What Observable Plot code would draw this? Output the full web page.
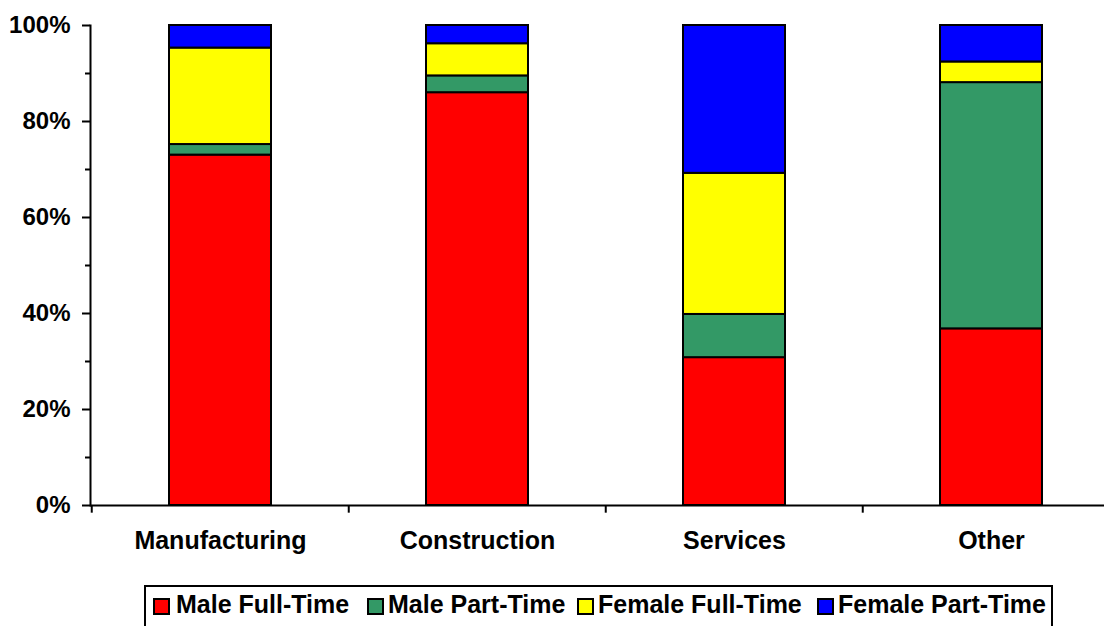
<!DOCTYPE html>
<html>
<head>
<meta charset="utf-8">
<script src="https://cdn.jsdelivr.net/npm/d3@7"></script>
<script src="https://cdn.jsdelivr.net/npm/@observablehq/plot@0.6"></script>
<style>
  html, body { margin: 0; padding: 0; background: #fff; }
  body { width: 1104px; height: 626px; position: relative; overflow: hidden; font-family: "Liberation Sans", Arial, sans-serif; }
  #chart { position: absolute; left: 0; top: 0; }
  #legend { position: absolute; left: 144px; top: 585px; width: 909px; height: 48px; border: 2px solid #000; box-sizing: border-box;
            font-weight: bold; font-size: 25px; white-space: nowrap; }
  .sw { position: absolute; top: 11px; width: 13px; height: 13px; border: 2px solid #000; }
  .lab { position: absolute; top: 3px; line-height: 29px; }
</style>
</head>
<body>
<div id="chart"></div>
<div id="legend"></div>
<script>
const categories = ["Manufacturing", "Construction", "Services", "Other"];
const series = ["Male Full-Time", "Male Part-Time", "Female Full-Time", "Female Part-Time"];
const colors = ["#FF0000", "#339966", "#FFFF00", "#0000FF"];
const maleFullTime   = [73.0, 86.0, 30.8, 36.8];
const malePartTime   = [2.2, 3.5, 9.0, 51.3];
const femaleFullTime = [20.1, 6.7, 29.4, 4.3];
const femalePartTime = [4.7, 3.8, 30.8, 7.6];
const majorTicks = [0, 20, 40, 60, 80, 100];
const minorTicks = [10, 30, 50, 70, 90];

const seriesValues = [maleFullTime, malePartTime, femaleFullTime, femalePartTime];
const data = [];
series.forEach((s, si) => categories.forEach((c, ci) => data.push({category: c, series: s, value: seriesValues[si][ci]})));

const font = "'Liberation Sans', Arial, sans-serif";
const step = (1120 - 90) / categories.length;

const chart = Plot.plot({
  width: 1104,
  height: 580,
  marginLeft: 90,
  marginRight: 0,
  marginTop: 25,
  marginBottom: 75,
  style: {fontFamily: font, background: "white", overflow: "visible"},
  x: {domain: categories, range: [90, 1120], paddingInner: 0.604, paddingOuter: 0.302, axis: null, label: null},
  y: {domain: [0, 100], axis: null, label: null},
  color: {domain: series, range: colors},
  marks: [
    Plot.barY(data, {x: "category", y: "value", fill: "series", stroke: "black", strokeWidth: 2}),
    Plot.frame({anchor: "left", stroke: "black", strokeWidth: 2}),
    Plot.ruleY([0], {stroke: "black", strokeWidth: 2}),
    Plot.ruleX(categories, {x: d => d, dx: -step / 2, y1: 0, y2: -1.6, stroke: "black", strokeWidth: 2}),
    Plot.axisY({ticks: majorTicks, tickSize: 8, tickPadding: 12, strokeWidth: 2, stroke: "black", label: null,
      tickFormat: d => d + "%", fontSize: 24, fontWeight: "bold", fill: "black"}),
    Plot.axisY({ticks: minorTicks, tickSize: 5, strokeWidth: 2, stroke: "black", text: null, label: null}),
    Plot.axisX({tickSize: 0, tickPadding: 26, fontSize: 25, fontWeight: "bold", fill: "black", label: null})
  ]
});
document.getElementById("chart").appendChild(chart);

// legend item left edges (relative to the legend box's inner edge)
const swatchLeft = [7, 221, 431, 671];
const labelLeft = [30, 242, 452, 692];
const legend = document.getElementById("legend");
series.forEach((s, i) => {
  const sw = document.createElement("span");
  sw.className = "sw";
  sw.style.left = swatchLeft[i] + "px";
  sw.style.background = colors[i];
  const label = document.createElement("span");
  label.className = "lab";
  label.style.left = labelLeft[i] + "px";
  label.textContent = s;
  legend.appendChild(sw);
  legend.appendChild(label);
});
</script>
</body>
</html>
